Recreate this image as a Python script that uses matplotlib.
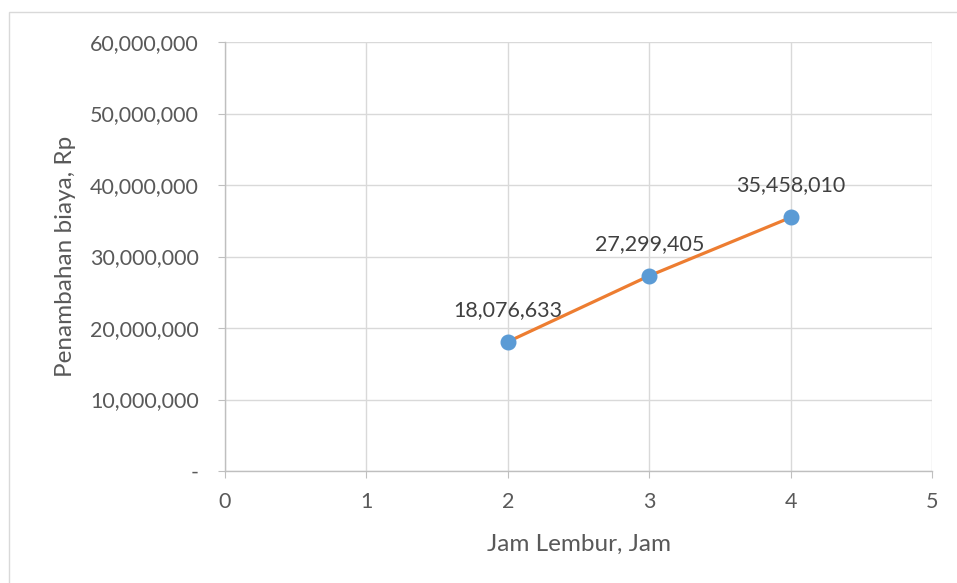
import matplotlib.pyplot as plt
from matplotlib.patches import Rectangle
from matplotlib.ticker import FuncFormatter

plt.rcParams['font.family'] = ['Lato', 'DejaVu Sans']

# data lembur
jam = [2, 3, 4]
biaya = [18076633, 27299405, 35458010]
label_biaya = ['18,076,633', '27,299,405', '35,458,010']

x_ticks = [0, 1, 2, 3, 4, 5]
y_ticks = [0, 10000000, 20000000, 30000000, 40000000, 50000000, 60000000]

fig = plt.figure(figsize=(9.57, 5.83), dpi=100)
ax = fig.add_axes([0.2351, 0.1921, 0.7388, 0.7358])

# bingkai chart
fig.patches.append(Rectangle((9 / 957, -0.1), 1.2, 1 - 12 / 583 + 0.1, transform=fig.transFigure,
                             fill=False, edgecolor='#D9D9D9', linewidth=1))

ax.plot(jam, biaya, color='#ED7D31', linewidth=2.3, zorder=3)
ax.plot(jam, biaya, 'o', color='#5B9BD5', markersize=10.5, zorder=4)

for x, y, t in zip(jam, biaya, label_biaya):
    ax.annotate(t, (x, y), xytext=(0, 23), textcoords='offset points',
                ha='center', va='center', fontsize=15.5, color='#404040')

ax.set_xlim(0, 5)
ax.set_ylim(0, 60000000)
ax.set_xticks(x_ticks)
ax.set_yticks(y_ticks)
ax.yaxis.set_major_formatter(FuncFormatter(lambda v, p: '-' if v == 0 else f'{v:,.0f}'))

ax.grid(True, color='#D9D9D9', linewidth=1)
ax.set_axisbelow(True)
for s in ['top', 'right']:
    ax.spines[s].set_visible(False)
for s in ['left', 'bottom']:
    ax.spines[s].set_color('#BFBFBF')
    ax.spines[s].set_linewidth(1)

ax.tick_params(axis='both', colors='#BFBFBF', labelcolor='#595959', labelsize=15.5, length=5)
ax.tick_params(axis='y', pad=14)
ax.tick_params(axis='x', pad=10)

ax.set_xlabel('Jam Lembur, Jam', fontsize=17.5, color='#595959', labelpad=16)
ax.set_ylabel('Penambahan biaya, Rp', fontsize=17.5, color='#595959', labelpad=10)

fig.savefig('out.png', dpi=100)
